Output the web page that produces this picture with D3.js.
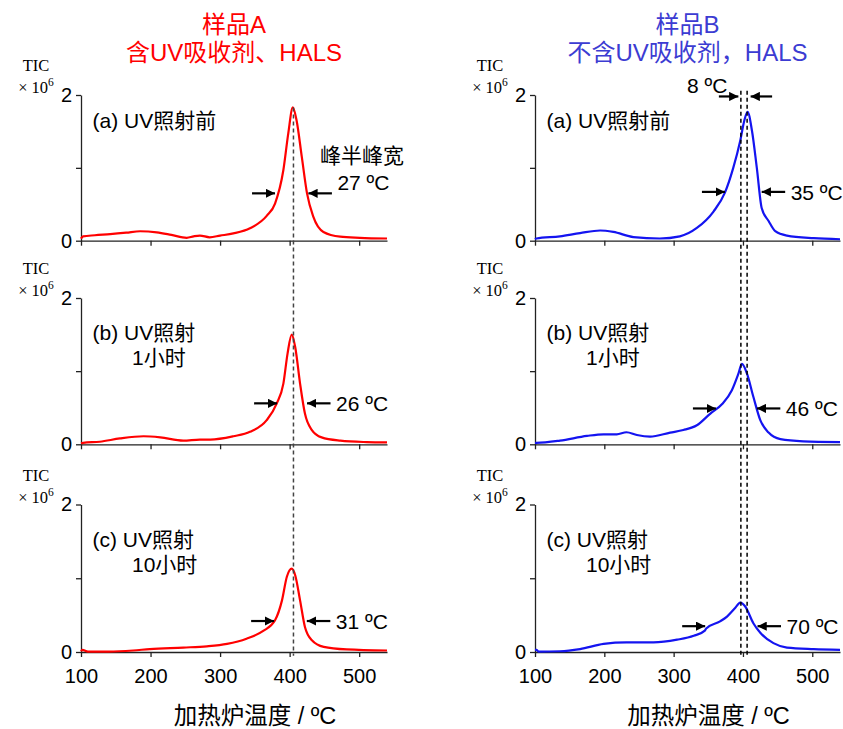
<!DOCTYPE html>
<html>
<head>
<meta charset="utf-8">
<script src="https://cdn.jsdelivr.net/npm/d3@7"></script>
<style>
  body { margin: 0; background: #fff; }
  text { font-family: "Liberation Sans", Arial, "Noto Sans CJK SC", sans-serif; }
  .serif { font-family: "Liberation Serif", "Times New Roman", serif; }
</style>
</head>
<body>
<div id="graph"></div>
<script>
'use strict';

// ---- data (temperature in ºC, TIC in units of 10^6) ----
const xTicks = [100, 200, 300, 400, 500];
const yTicks = [0, 1, 2];

// sample A (with UV absorber, HALS) - red
const aBeforeT = [100, 103, 120, 142, 165, 185, 209, 230, 252, 262, 271, 285, 300, 319, 343, 367, 379, 391, 398, 404.6, 410, 417.5, 425, 434, 448.6, 472.7, 501, 540];
const aBeforeV = [0.03, 0.06, 0.075, 0.09, 0.11, 0.13, 0.115, 0.08, 0.04, 0.06, 0.07, 0.047, 0.07, 0.10, 0.17, 0.34, 0.51, 0.97, 1.47, 1.83, 1.65, 1.15, 0.65, 0.33, 0.12, 0.055, 0.04, 0.03];

const a1hT = [100, 103, 127, 156, 190, 214, 247, 271, 286, 319, 343, 367, 381.5, 391, 397, 403, 408, 415, 422, 432, 446, 473, 511, 540];
const a1hV = [0.015, 0.02, 0.035, 0.08, 0.11, 0.095, 0.05, 0.065, 0.065, 0.11, 0.17, 0.33, 0.56, 0.83, 1.24, 1.50, 1.33, 0.83, 0.42, 0.195, 0.095, 0.05, 0.03, 0.025];

const a10hT = [100, 102, 110, 140, 175, 199, 247, 281, 310, 338, 362, 379, 389, 396, 403, 408, 415, 422, 432, 449, 482, 540];
const a10hV = [0.01, 0.03, 0.005, 0.005, 0.02, 0.04, 0.06, 0.077, 0.11, 0.18, 0.285, 0.43, 0.70, 1.02, 1.13, 1.04, 0.70, 0.34, 0.16, 0.07, 0.035, 0.02];

// sample B (without UV absorber, HALS) - blue
const bBeforeT = [100, 102, 136, 165, 194, 213, 242, 280, 309, 333.5, 357.5, 374, 386, 396, 402, 406.6, 413, 420, 427, 437, 446.6, 463.5, 502, 540];
const bBeforeV = [0.02, 0.03, 0.06, 0.105, 0.14, 0.12, 0.05, 0.03, 0.06, 0.175, 0.40, 0.66, 1.0, 1.37, 1.65, 1.77, 1.51, 1.0, 0.45, 0.27, 0.13, 0.07, 0.035, 0.02];

const b1hT = [100, 102, 136, 175, 199, 218, 232, 247, 266, 295, 314, 333.5, 353, 370, 384, 393.6, 398.5, 405.7, 415, 425, 437, 454, 487, 540];
const b1hV = [0.02, 0.02, 0.05, 0.115, 0.137, 0.137, 0.165, 0.127, 0.105, 0.16, 0.195, 0.26, 0.42, 0.55, 0.74, 0.97, 1.10, 0.97, 0.65, 0.33, 0.16, 0.07, 0.04, 0.03];

const b10hT = [100, 102, 105, 136, 165, 199, 232, 271, 305, 329, 345, 347, 367, 377, 389, 396, 403, 415, 425, 444, 463.5, 502, 540];
const b10hV = [0.03, 0.03, 0.005, 0.01, 0.04, 0.11, 0.13, 0.13, 0.167, 0.22, 0.29, 0.32, 0.415, 0.48, 0.60, 0.67, 0.62, 0.39, 0.26, 0.12, 0.06, 0.04, 0.03];

// half-width annotations: [arrow TIC level, left tip ºC, right tip ºC]
const widthA = [[0.65, 379, 427], [0.56, 382, 425], [0.42, 377.7, 424.7]];
const widthB = [[0.67, 374, 427], [0.49, 361, 420], [0.35, 345.5, 421]];
const widthLabelsA = ['27 ºC', '26 ºC', '31 ºC'];
const widthLabelsB = ['35 ºC', '46 ºC', '70 ºC'];

// peak position lines
const peakA = [405.5];
const peakB = [397, 406];

const panelLabels = [['(a) UV照射前'], ['(b) UV照射', '1小时'], ['(c) UV照射', '10小时']];
const titlesA = ['样品A', '含UV吸收剂、HALS'];
const titlesB = ['样品B', '不含UV吸收剂，HALS'];
const xTitle = '加热炉温度 / ºC';

(function() {

  const RED = '#ff0000';
  const BLUE = '#1414f0';
  const TITLE_BLUE = '#3c3cd2';

  // layout of the grid of panels
  const cols = [[81, 387], [535, 840]];
  const rows = [[95, 240.7], [298, 444.3], [504.5, 652]];

  let svg = d3.select('#graph')
    .append('svg')
    .attr('width', 843)
    .attr('height', 729);

  // arrow head marker
  let defs = svg.append('defs');
  defs.append('marker')
    .attr('id', 'head')
    .attr('viewBox', '0 0 10 10')
    .attr('refX', 10)
    .attr('refY', 5)
    .attr('markerWidth', 4.2)
    .attr('markerHeight', 4.2)
    .attr('markerUnits', 'strokeWidth')
    .attr('orient', 'auto')
    .append('path')
      .attr('d', 'M0,0 L10,5 L0,10 Z')
      .attr('fill', '#000');

  const seriesA = [[aBeforeT, aBeforeV], [a1hT, a1hV], [a10hT, a10hV]];
  const seriesB = [[bBeforeT, bBeforeV], [b1hT, b1hV], [b10hT, b10hV]];

  let scalesA = [];
  let scalesB = [];
  for (let r = 0; r < 3; r++) {
    scalesA.push(drawPanel(cols[0], rows[r], seriesA[r], RED, r, widthA[r], widthLabelsA[r], r === 0));
    scalesB.push(drawPanel(cols[1], rows[r], seriesB[r], BLUE, r, widthB[r], widthLabelsB[r], false));
  }

  // vertical dashed peak lines spanning all three panels
  drawPeakLines(peakA, scalesA, 1.83, '#444');
  drawPeakLines(peakB, scalesB, 2.06, '#000');

  // "8 ºC" annotation between the two B peak lines
  let xb = scalesB[0].x;
  let yb = scalesB[0].y;
  let yTop = yb(1.98);
  drawArrow(xb(peakB[0]) - 22, yTop, xb(peakB[0]) - 2.5);
  drawArrow(xb(peakB[1]) + 25, yTop, xb(peakB[1]) + 3.5);
  svg.append('text')
    .attr('x', 687)
    .attr('y', yTop - 3.5)
    .style('font-size', '21px')
    .text('8 ºC');

  // "峰半峰宽" label
  svg.append('text')
    .attr('x', 362)
    .attr('y', 163)
    .attr('text-anchor', 'middle')
    .style('font-size', '21px')
    .text('峰半峰宽');

  makeTitles(cols[0], titlesA, RED);
  makeTitles(cols[1], titlesB, TITLE_BLUE);

  // x axis titles
  cols.forEach(function(c) {
    svg.append('text')
      .attr('x', (c[0] + c[1]) / 2 + 21)
      .attr('y', 724)
      .attr('text-anchor', 'middle')
      .style('font-size', '23.5px')
      .text(xTitle);
  });

  // draw one panel: axes, curve, half-width arrows, labels
  function drawPanel(xr, yr, s, color, r, w, wLabel, raiseLabel) {
    let xScale = d3.scaleLinear().domain([100, 540]).range(xr);
    let yScale = d3.scaleLinear().domain([0, 2]).range([yr[1], yr[0]]);

    let xAxis = d3.axisBottom(xScale)
      .tickValues(xTicks)
      .tickSize(5)
      .tickSizeOuter(0)
      .tickPadding(12)
      .tickFormat(r === 2 ? d3.format('d') : '');
    let gx = svg.append('g')
      .attr('transform', 'translate(0,' + yr[1] + ')')
      .call(xAxis);

    let yAxis = d3.axisLeft(yScale)
      .tickValues(yTicks)
      .tickSize(5)
      .tickSizeOuter(0)
      .tickPadding(4)
      .tickFormat(function(d) { return d === 1 ? '' : d; });
    let gy = svg.append('g')
      .attr('transform', 'translate(' + xr[0] + ',0)')
      .call(yAxis);

    [gx, gy].forEach(function(g) {
      g.selectAll('path, line').attr('stroke', '#222').attr('stroke-width', 1.3);
      g.selectAll('text')
        .style('font-size', '20px')
        .style('font-family', '"Liberation Sans", Arial, sans-serif')
        .attr('fill', '#000');
    });

    // curve
    let pts = s[0].map(function(t, i) { return [t, s[1][i]]; });
    let line = d3.line()
      .x(function(d) { return xScale(d[0]); })
      .y(function(d) { return yScale(d[1]); })
      .curve(d3.curveMonotoneX);
    svg.append('path')
      .datum(pts)
      .attr('d', line)
      .attr('fill', 'none')
      .attr('stroke', color)
      .attr('stroke-width', 2.2)
      .attr('stroke-linejoin', 'round');

    // TIC x 10^6 label
    let cx = xr[0] - 45;
    svg.append('text')
      .attr('class', 'serif')
      .attr('x', cx)
      .attr('y', yr[0] - 24)
      .attr('text-anchor', 'middle')
      .style('font-size', '16.5px')
      .text('TIC');
    let mult = svg.append('text')
      .attr('class', 'serif')
      .attr('x', cx)
      .attr('y', yr[0] - 2)
      .attr('text-anchor', 'middle')
      .style('font-size', '16.5px');
    mult.append('tspan').text('× 10');
    mult.append('tspan')
      .attr('dy', -7)
      .style('font-size', '11.5px')
      .text('6');

    // panel label
    let lines = panelLabels[r];
    lines.forEach(function(txt, i) {
      svg.append('text')
        .attr('x', xr[0] + (i === 0 ? 11.5 : 51))
        .attr('y', yr[0] + (r === 0 ? 33 : 42) + i * 25)
        .style('font-size', '21px')
        .text(txt);
    });

    // half width arrows
    let ay = yScale(w[0]);
    let lTip = xScale(w[1]);
    let rTip = xScale(w[2]);
    drawArrow(lTip - 23, ay, lTip);
    drawArrow(rTip + 23.5, ay, rTip);
    svg.append('text')
      .attr('x', rTip + 29)
      .attr('y', ay + (raiseLabel ? -3 : 8))
      .style('font-size', '21px')
      .text(wLabel);

    return { x: xScale, y: yScale };
  }

  function drawArrow(x1, y, x2) {
    svg.append('line')
      .attr('x1', x1)
      .attr('y1', y)
      .attr('x2', x2)
      .attr('y2', y)
      .attr('stroke', '#000')
      .attr('stroke-width', 2.2)
      .attr('marker-end', 'url(#head)');
  }

  function drawPeakLines(temps, scales, topValue, color) {
    temps.forEach(function(t) {
      svg.append('line')
        .attr('x1', scales[0].x(t))
        .attr('x2', scales[0].x(t))
        .attr('y1', scales[0].y(topValue))
        .attr('y2', scales[2].y(-0.05))
        .attr('stroke', color)
        .attr('stroke-width', 1.5)
        .attr('stroke-dasharray', '4,3');
    });
  }

  function makeTitles(c, titles, color) {
    titles.forEach(function(txt, i) {
      svg.append('text')
        .attr('x', (c[0] + c[1]) / 2)
        .attr('y', 33 + i * 28)
        .attr('text-anchor', 'middle')
        .attr('fill', color)
        .style('font-size', '24px')
        .text(txt);
    });
  }

})();
</script>
</body>
</html>
